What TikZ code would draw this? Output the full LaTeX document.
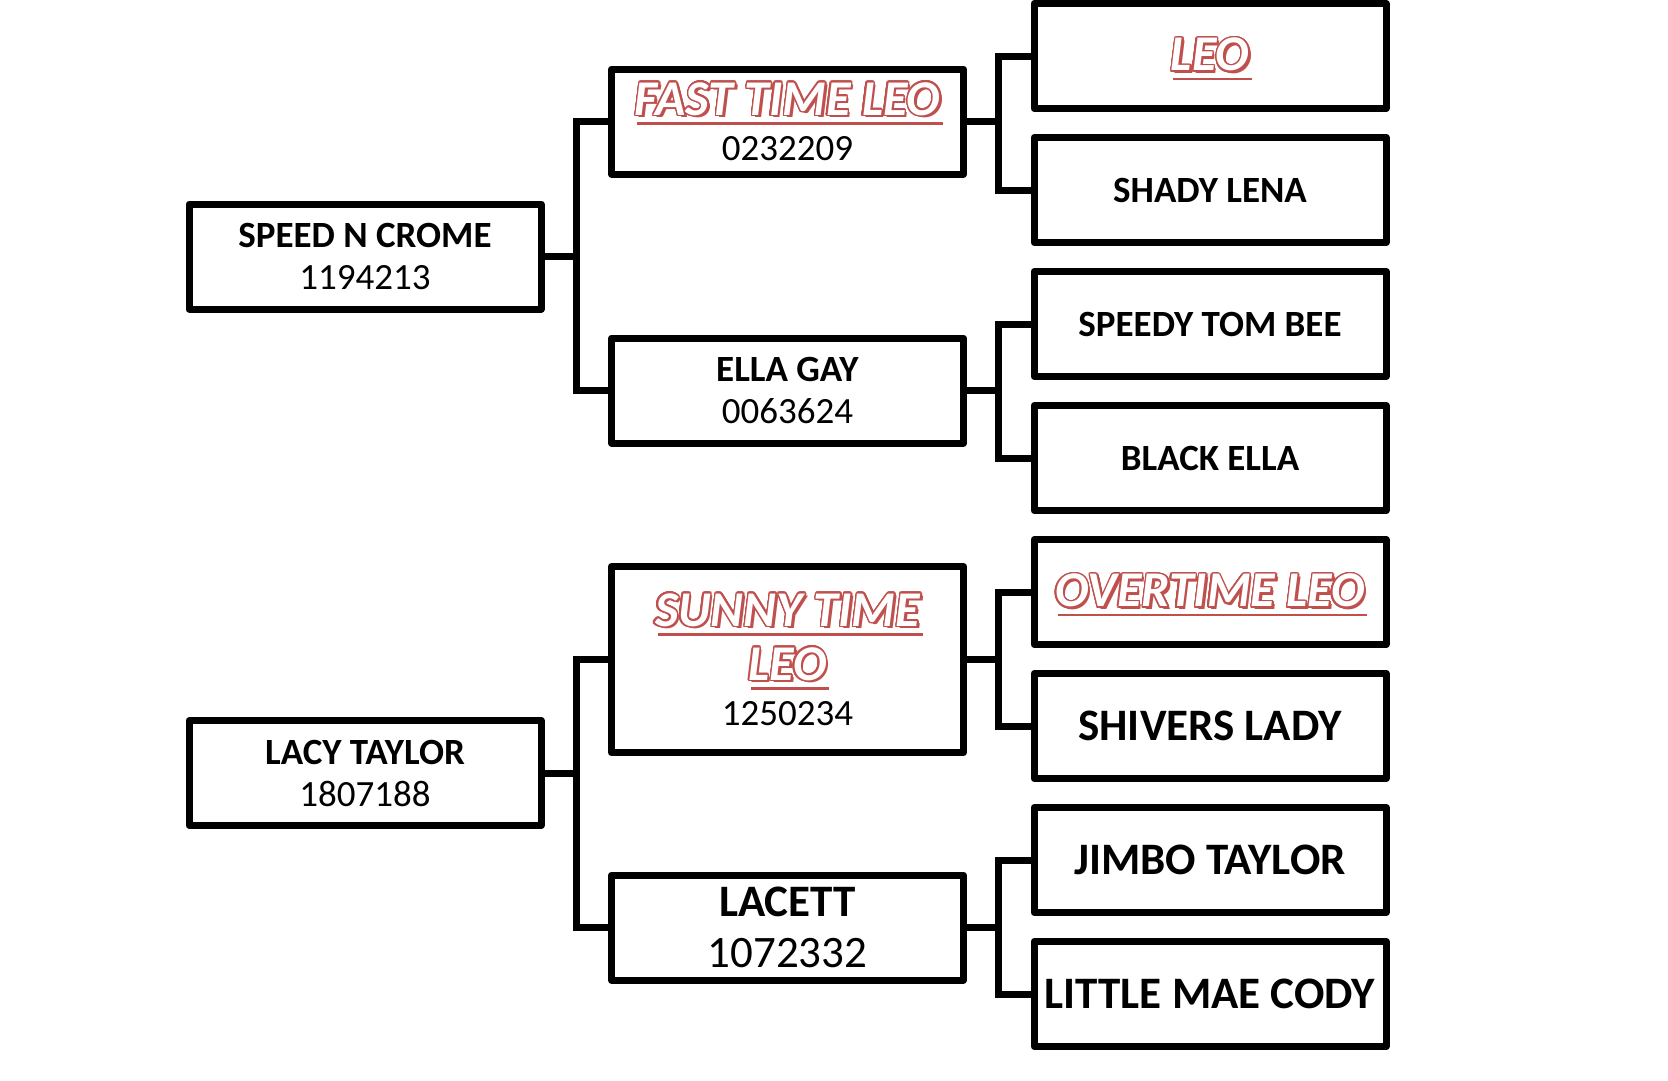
\documentclass[tikz,border=0pt]{standalone}
\usepackage{fontspec}
\setmainfont{Carlito}
\usepackage{contour}
\usetikzlibrary{calc}
\definecolor{leored}{HTML}{C0504D}
\contourlength{1.5pt}
\contournumber{24}
\newcommand\leoname[1]{{\fontsize{50pt}{54pt}\selectfont\bfseries\itshape
  \setbox0\hbox{#1}%
  \rlap{\kern2.5pt\raisebox{-2.5pt}{\textcolor{leored}{#1}}}%
  \smash{\rlap{\kern2.5pt\raisebox{-9.5pt}{\textcolor{leored}{\rule{\wd0}{2.4pt}}}}}%
  \smash{\rlap{\raisebox{-6.6pt}{\textcolor{leored}{\rule{\wd0}{1.8pt}}}}}%
  {\color{white}\contour{leored}{#1}}}}
\newcommand\fsmall{\fontsize{37pt}{42pt}\selectfont\lineskiplimit=-100pt\relax}
\newcommand\fbig{\fontsize{45pt}{51pt}\selectfont}
\tikzset{
  box/.style={draw, line width=7pt, line join=round, minimum width=352pt,
    minimum height=105pt, align=center, inner sep=0pt, fill=white},
  tall/.style={minimum height=186pt},
  conn/.style={line width=7pt, line join=miter, line cap=rect},
}
\begin{document}
\begin{tikzpicture}[x=1pt, y=-1pt]
\useasboundingbox (0,0) rectangle (1668,1080);
% column A
\node[box, font=\fsmall] (speed) at (365,256.5) {\textbf{SPEED N CROME}\\1194213};
\node[box, font=\fsmall] (lacy) at (365,773) {\textbf{LACY TAYLOR}\\1807188};
% column B
\node[box, font=\fsmall] (fast) at (787.5,121.5) {\leoname{FAST TIME LEO}\\[3pt]0232209};
\node[box, font=\fsmall] (ella) at (787.5,390.5) {\textbf{ELLA GAY}\\0063624};
\node[box, tall, font=\fsmall] (sunny) at (787.5,659.5) {\leoname{SUNNY TIME}\\[12pt]\leoname{LEO}\\[3pt]1250234};
\node[box, font=\fbig] (lacett) at (787.5,927.5) {\textbf{LACETT}\\1072332};
% column C
\node[box, font=\fsmall] (leo) at (1210,56) {\leoname{LEO}};
\node[box, font=\fsmall\bfseries] (shady) at (1210,190) {SHADY LENA};
\node[box, font=\fsmall\bfseries] (speedy) at (1210,324) {SPEEDY TOM BEE};
\node[box, font=\fsmall\bfseries] (black) at (1210,458) {BLACK ELLA};
\node[box, font=\fsmall] (over) at (1210,592) {\leoname{OVERTIME LEO}};
\node[box, font=\fbig\bfseries] (shivers) at (1210,726) {SHIVERS LADY};
\node[box, font=\fbig\bfseries] (jimbo) at (1210,860) {JIMBO TAYLOR};
\node[box, font=\fbig\bfseries] (little) at (1210,994) {LITTLE MAE CODY};
% forks
\coordinate (p1) at ($(speed.east)!.5!(fast.west)$);
\coordinate (p2) at ($(lacy.east)!.5!(sunny.west)$);
\coordinate (q1) at ($(fast.east)!.5!(leo.west)$);
\coordinate (q2) at ($(ella.east)!.5!(speedy.west)$);
\coordinate (q3) at ($(sunny.east)!.5!(over.west)$);
\coordinate (q4) at ($(lacett.east)!.5!(jimbo.west)$);
\draw[conn] (fast.west) -| (p1) |- (ella.west);
\draw[conn] (speed.east) -- (speed.east -| p1);
\draw[conn] (sunny.west) -| (p2) |- (lacett.west);
\draw[conn] (lacy.east) -- (lacy.east -| p2);
\draw[conn] (leo.west) -| (q1) |- (shady.west);
\draw[conn] (fast.east) -- (fast.east -| q1);
\draw[conn] (speedy.west) -| (q2) |- (black.west);
\draw[conn] (ella.east) -- (ella.east -| q2);
\draw[conn] (over.west) -| (q3) |- (shivers.west);
\draw[conn] (sunny.east) -- (sunny.east -| q3);
\draw[conn] (jimbo.west) -| (q4) |- (little.west);
\draw[conn] (lacett.east) -- (lacett.east -| q4);
\end{tikzpicture}
\end{document}
